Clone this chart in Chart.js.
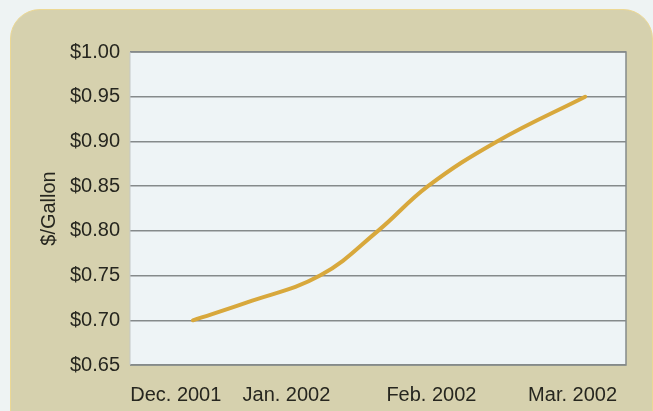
<!DOCTYPE html>
<html lang="en">
  <head>
    <meta charset="UTF-8" />
    <title>Gasoline price</title>
    <script src="https://cdn.jsdelivr.net/npm/chart.js@4.4.0/dist/chart.umd.min.js"></script>
    <style>
      html, body { margin: 0; padding: 0; background: #eef3f3; }
      #panel {
        position: absolute; left: 10px; top: 9px; width: 641px; height: 440px;
        background: #d6d1ae; border: 1px solid #ecd894; border-radius: 30px 30px 0 0;
      }
      #wrap { position: absolute; left: 0; top: 0; width: 653px; height: 411px; }
    </style>
    <script>
      // x values are days counted from Dec. 1, 2001
      const xTickValues = [2, 31, 69, 106];
      const xTickLabels = ["Dec. 2001", "Jan. 2002", "Feb. 2002", "Mar. 2002"];
      const priceDays = [6.5, 20.7, 39.8, 55, 68.1, 86.2, 109.3];
      const pricePerGallon = [0.70, 0.72, 0.75, 0.80, 0.85, 0.90, 0.95];
    </script>
  </head>
  <body>
    <div id="panel"></div>
    <div id="wrap"><canvas id="chart" width="653" height="411"></canvas></div>
    <script>
      const FONT = "'Liberation Sans', Arial, sans-serif";

      // light plot background + frame
      const plotFrame = {
        id: "plotFrame",
        beforeDraw(chart) {
          const { ctx, chartArea: a } = chart;
          ctx.save();
          ctx.fillStyle = "#eef4f6";
          ctx.fillRect(a.left, a.top, a.right - a.left, a.bottom - a.top);
          ctx.restore();
        },
        afterDraw(chart) {
          const { ctx, chartArea: a } = chart;
          ctx.save();
          ctx.strokeStyle = "#858a8b";
          ctx.lineWidth = 1.5;
          ctx.beginPath();
          ctx.moveTo(a.left, a.top);
          ctx.lineTo(a.right, a.top);
          ctx.lineTo(a.right, a.bottom);
          ctx.lineTo(a.left, a.bottom);
          ctx.stroke();
          ctx.strokeStyle = "#c4c8c8";
          ctx.lineWidth = 1;
          ctx.beginPath();
          ctx.moveTo(a.left, a.top);
          ctx.lineTo(a.left, a.bottom);
          ctx.stroke();
          ctx.restore();
        }
      };

      new Chart(document.getElementById("chart"), {
        type: "line",
        data: {
          datasets: [{
            data: priceDays.map((d, i) => ({ x: d, y: pricePerGallon[i] })),
            borderColor: "#d8a83c",
            borderWidth: 4,
            borderCapStyle: "round",
            pointRadius: 0,
            tension: 0.4,
            fill: false
          }]
        },
        options: {
          responsive: false,
          animation: false,
          events: [],
          layout: { padding: { left: 35, right: 27, top: 52, bottom: 0 } },
          plugins: { legend: { display: false }, tooltip: { enabled: false } },
          scales: {
            x: {
              type: "linear",
              min: -10,
              max: 120,
              grid: { display: false },
              border: { display: false },
              afterBuildTicks: (s) => { s.ticks = xTickValues.map(v => ({ value: v })); },
              afterFit: (s) => { s.height = 46; },
              ticks: {
                autoSkip: false,
                maxRotation: 0,
                padding: 10,
                color: "#26261f",
                font: { family: FONT, size: 20 },
                callback: (v) => xTickLabels[xTickValues.indexOf(v)]
              }
            },
            y: {
              min: 0.65,
              max: 1.00,
              afterFit: (s) => { s.width = 95; },
              grid: { color: "#858a8b", lineWidth: 1.5, drawTicks: false },
              border: { display: false },
              title: {
                display: true,
                text: "$/Gallon",
                color: "#26261f",
                font: { family: FONT, size: 20 },
                padding: { top: 2, bottom: 0 }
              },
              ticks: {
                stepSize: 0.05,
                padding: 10,
                color: "#26261f",
                font: { family: FONT, size: 20 },
                callback: (v) => "$" + Number(v).toFixed(2)
              }
            }
          }
        },
        plugins: [plotFrame]
      });
    </script>
  </body>
</html>
